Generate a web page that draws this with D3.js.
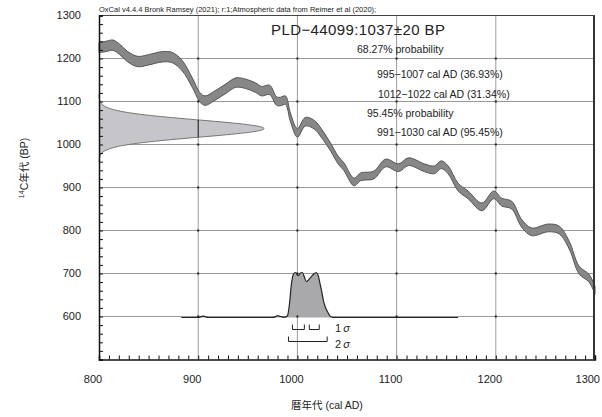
<!DOCTYPE html>
<html><head><meta charset="utf-8">
<script src="https://cdn.jsdelivr.net/npm/d3@7"></script>
<style>
html,body{margin:0;padding:0;background:#fff;}
svg{display:block;}
text{font-family:"Liberation Sans",Arial,"Noto Sans CJK JP",sans-serif;fill:#222;}
</style></head>
<body>
<svg id="chart" width="602" height="417"></svg>
<script>
// ---- Data ----
// Calibration curve (IntCal20): cal AD year, 14C BP, 1-sigma half width
const curveYears = [800,807,814,821,829,839,850,864,874,884,894,902,907,917,928,938,948,958,964,972,979,983,988,993,1000,1008,1017,1024,1034,1041,1047,1057,1064,1077,1089,1102,1112,1128,1138,1145,1152,1162,1172,1186,1198,1206,1216,1226,1236,1253,1264,1274,1284,1294,1300];
const curveBP    = [1225,1228,1231,1221,1204,1193,1197,1204,1202,1183,1144,1109,1102,1114,1130,1144,1141,1132,1124,1127,1101,1100,1103,1063,1027,1053,1046,1027,992,964,948,913,925,929,957,946,960,946,941,953,941,901,883,855,883,866,859,817,797,806,801,766,708,689,661];
const curveSigma = [12,12,12,12,12,12,12,12,12,12,11,11,11,11,11,11,11,11,11,11,10,10,10,10,10,10,10,10,9,9,9,9,9,9,9,9,9,9,9,9,9,9,9,9,9,9,9,9,9,9,9,9,9,9,9];

// Measured radiocarbon date distribution (1037 ± 20 BP): BP, relative density
const measBP   = [1117,1110,1105,1100,1095,1090,1085,1080,1075,1070,1065,1060,1055,1050,1045,1040,1037,1035,1030,1025,1020,1015,1010,1005,1000,995,990,985,980,975,970,960];
const measDens = [0.0003,0.0013,0.003,0.007,0.015,0.030,0.056,0.099,0.164,0.256,0.375,0.516,0.667,0.810,0.923,0.989,1.0,0.995,0.94,0.835,0.697,0.546,0.402,0.278,0.181,0.110,0.063,0.034,0.017,0.008,0.004,0.0006];

// Calibrated (posterior) distribution: cal AD year, relative probability
const postYears = [883,900,903,905,907,910,975,978,980,982,985,988,990,992,994,996,998,1001,1003,1005,1007,1009,1011,1014,1017,1019,1021,1023,1025,1026,1028,1030,1033,1036,1162];
const postProb  = [0,0,0.02,0.03,0.02,0,0,0.02,0.04,0.03,0.01,0.01,0.04,0.3,0.75,0.96,1.0,0.93,0.99,1.0,0.9,0.8,0.83,0.91,0.97,1.0,0.93,0.73,0.52,0.4,0.24,0.14,0.03,0,0];

// Ranges
const sigma1Ranges = [[995,1007],[1012,1022]];
const sigma2Ranges = [[991,1030]];

// Axis ticks
const xTicks = [800,900,1000,1100,1200,1300];
const yTicks = [600,700,800,900,1000,1100,1200,1300];

// Text
const headerText = "OxCal v4.4.4 Bronk Ramsey (2021); r:1;Atmospheric data from Reimer et al (2020);";
const sampleLabel = "PLD\u221244099:1037\u00B120 BP";
const legendLines = [
  {t:"68.27% probability", x:357, y:50},
  {t:"995\u22121007 cal AD (36.93%)", x:377, y:75},
  {t:"1012\u22121022 cal AD (31.34%)", x:378, y:95},
  {t:"95.45% probability", x:367, y:114},
  {t:"991\u22121030 cal AD (95.45%)", x:377, y:133}
];

// ---- Scales ----
const svg = d3.select("#chart");
const x = d3.scaleLinear().domain([800,1300]).range([99,595]);
const y = d3.scaleLinear().domain([500,1300]).range([359.5,15.5]);
const measW = d3.scaleLinear().domain([0,1]).range([0,165]);
const postH = d3.scaleLinear().domain([0,1]).range([0,45]);

const gridColor = "#9a9a9a";

// Grid lines
const grid = svg.append("g");
grid.selectAll("line.vx").data(xTicks.filter(d=>d>800&&d<1300)).enter().append("line")
  .attr("x1",d=>x(d)).attr("x2",d=>x(d)).attr("y1",y(1300)).attr("y2",y(500))
  .attr("stroke",gridColor).attr("stroke-width",1);
grid.selectAll("line.hy").data(yTicks.filter(d=>d<1300)).enter().append("line")
  .attr("y1",d=>y(d)).attr("y2",d=>y(d)).attr("x1",x(800)).attr("x2",x(1300))
  .attr("stroke",gridColor).attr("stroke-width",1);

// Measured distribution on y axis
const measData = measBP.map((b,i)=>({b, d:measDens[i]}));
const measArea = d3.area().y(d=>y(d.b)).x0(x(800)).x1(d=>x(800)+measW(d.d)).curve(d3.curveMonotoneY);
const measLine = d3.line().y(d=>y(d.b)).x(d=>x(800)+measW(d.d)).curve(d3.curveMonotoneY);
svg.append("clipPath").attr("id","measClip").append("path").attr("d",measArea(measData));
svg.append("path").attr("d",measArea(measData)).attr("fill","#c6c6ca").attr("stroke","none");
svg.append("path").attr("d",measLine(measData)).attr("fill","none").attr("stroke","#777").attr("stroke-width",1);
// darker gridline through the filled distribution
svg.append("line").attr("clip-path","url(#measClip)")
  .attr("x1",x(900)).attr("x2",x(900)).attr("y1",y(1300)).attr("y2",y(500))
  .attr("stroke","#111").attr("stroke-width",1);

// Calibration curve band
const curveData = curveYears.map((yr,i)=>({yr, bp:curveBP[i], s:curveSigma[i]}));
const band = d3.area().x(d=>x(d.yr)).y0(d=>y(d.bp-d.s)).y1(d=>y(d.bp+d.s)).curve(d3.curveCatmullRom.alpha(0.5));
svg.append("path").attr("d",band(curveData)).attr("fill","#878787").attr("stroke","#555").attr("stroke-width",1);

// Posterior distribution at bottom
const base = y(600)+1;
const postData = postYears.map((yr,i)=>({yr, p:postProb[i]}));
const postArea = d3.area().x(d=>x(d.yr)).y0(base).y1(d=>base-postH(d.p)).curve(d3.curveMonotoneX);
const postLine = d3.line().x(d=>x(d.yr)).y(d=>base-postH(d.p)).curve(d3.curveMonotoneX);
svg.append("path").attr("d",postArea(postData)).attr("fill","#a9a9ac").attr("stroke","none");
svg.append("path").attr("d",postLine(postData)).attr("fill","none").attr("stroke","#222").attr("stroke-width",1.2);

// Grid intersection marks
const marks = [];
xTicks.filter(d=>d>800&&d<1300).forEach(a=>yTicks.filter(d=>d<1300).forEach(b=>marks.push([a,b])));
svg.selectAll("rect.mk").data(marks).enter().append("rect")
  .attr("x",d=>x(d[0])-1).attr("y",d=>y(d[1])-1).attr("width",2).attr("height",2).attr("fill","#222");

// Sigma brackets
function bracket(r, top, h){
  const x1=x(r[0]), x2=x(r[1]);
  svg.append("path").attr("d",`M${x1},${top}V${top+h}H${x2}V${top}`)
    .attr("fill","none").attr("stroke","#222").attr("stroke-width",1);
}
sigma1Ranges.forEach(r=>bracket(r, base+7, 5));
sigma2Ranges.forEach(r=>bracket(r, base+19, 5));
const s1 = svg.append("text").attr("x",x(1038)).attr("y",base+11).attr("dominant-baseline","middle").attr("font-size",11);
s1.append("tspan").text("1");
s1.append("tspan").attr("font-style","italic").attr("dx",2).text("\u03C3");
const s2 = svg.append("text").attr("x",x(1038)).attr("y",base+27).attr("dominant-baseline","middle").attr("font-size",11);
s2.append("tspan").text("2");
s2.append("tspan").attr("font-style","italic").attr("dx",2).text("\u03C3");

// Frame: top and right
svg.append("line").attr("x1",x(800)).attr("x2",x(1300)).attr("y1",y(1300)).attr("y2",y(1300)).attr("stroke","#444").attr("stroke-width",1);
svg.append("line").attr("x1",x(1300)-1).attr("x2",x(1300)-1).attr("y1",y(1300)).attr("y2",y(500)).attr("stroke","#333").attr("stroke-width",2);

// Axes (ticks inward)
const xAxis = d3.axisTop(x).tickValues(d3.range(800,1301,10)).tickSize(4).tickFormat("");
const gx = svg.append("g").attr("transform",`translate(0,${y(500)})`).call(xAxis);
gx.select(".domain").attr("stroke","#111").attr("stroke-width",1.5);
gx.selectAll(".tick line").attr("stroke","#111").attr("stroke-width",1);
const yAxis = d3.axisRight(y).tickValues(d3.range(500,1301,20)).tickSize(4).tickFormat("");
const gy = svg.append("g").attr("transform",`translate(${x(800)},0)`).call(yAxis);
gy.select(".domain").attr("stroke","#111").attr("stroke-width",1.5);
gy.selectAll(".tick line").attr("stroke","#111").attr("stroke-width",1);

// Tick labels
svg.selectAll("text.xl").data(xTicks).enter().append("text")
  .attr("x",d=>d===1300 ? 600 : x(d)-6).attr("y",380)
  .attr("text-anchor",d=>d===1300 ? "end" : "middle").attr("dominant-baseline","middle")
  .attr("font-size",11).text(d=>d);
svg.selectAll("text.yl").data(yTicks).enter().append("text")
  .attr("x",81).attr("y",d=>y(d)+1).attr("text-anchor","end").attr("dominant-baseline","middle")
  .attr("font-size",11).text(d=>d);

// Axis titles
svg.append("text").attr("x",327).attr("y",406).attr("text-anchor","middle").attr("dominant-baseline","middle")
  .attr("font-size",10.5).text("暦年代 (cal AD)");
const yt = svg.append("text").attr("transform","translate(25,168) rotate(-90)").attr("text-anchor","middle")
  .attr("dominant-baseline","middle").attr("font-size",10.5);
yt.append("tspan").attr("font-size",7).attr("dy",-3).text("14");
yt.append("tspan").attr("dy",3).text("C年代 (BP)");

// Header
svg.append("text").attr("x",99).attr("y",12).attr("font-size",7.5).text(headerText);

// Sample label and ranges
svg.append("text").attr("x",271).attr("y",31).attr("dominant-baseline","middle").attr("font-size",15)
  .attr("letter-spacing",0.4).text(sampleLabel);
svg.selectAll("text.lg").data(legendLines).enter().append("text")
  .attr("x",d=>d.x).attr("y",d=>d.y).attr("dominant-baseline","middle").attr("font-size",10.5).text(d=>d.t);
</script>
</body></html>
